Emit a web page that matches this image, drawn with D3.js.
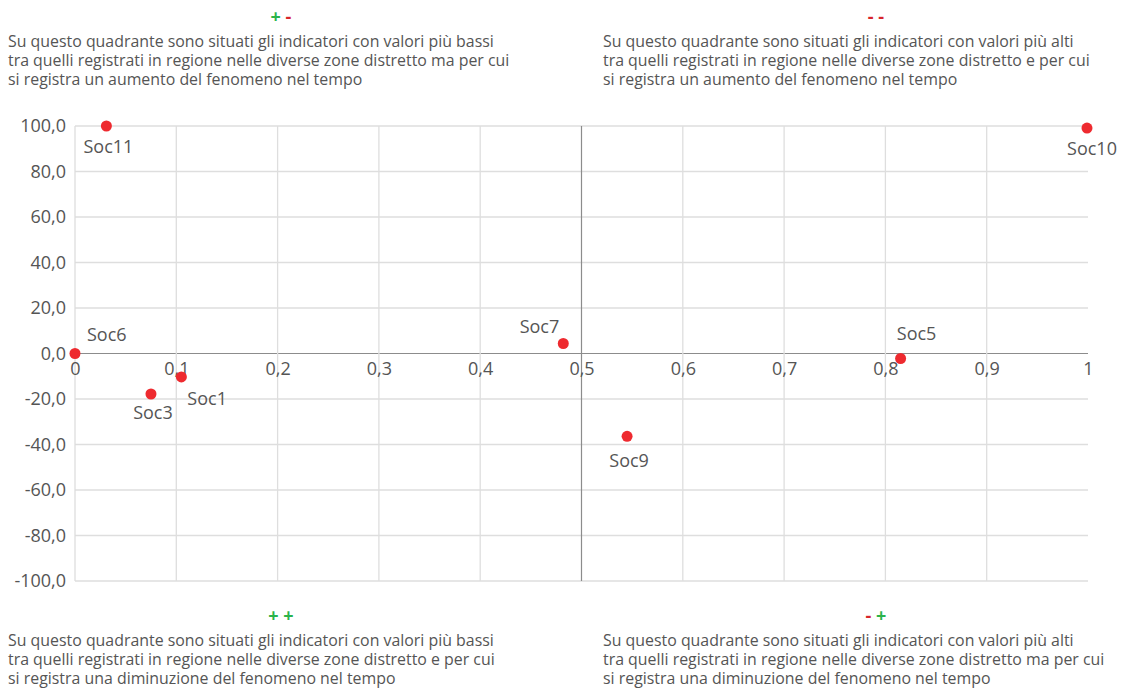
<!DOCTYPE html>
<html>
<head>
<meta charset="utf-8">
<script src="https://cdn.jsdelivr.net/npm/d3@7"></script>
<style>
  body { margin: 0; background: #fff; font-family: "Open Sans", sans-serif; }
  .note { font-size: 15.9px; fill: #555; }
  .tick text { font-family: "Open Sans", sans-serif; font-size: 18px; fill: #555; }
</style>
</head>
<body>
<div id="chart"></div>
<script>
var svgWidth = 1126;
var svgHeight = 690;
var margin = {top: 126, right: 38, bottom: 109, left: 75};
var width = svgWidth - margin.left - margin.right;
var height = svgHeight - margin.top - margin.bottom;

// dati
var names = ["Soc11", "Soc6", "Soc3", "Soc1", "Soc7", "Soc9", "Soc10", "Soc5"];
var xValues = [0.031, 0, 0.075, 0.105, 0.482, 0.545, 0.999, 0.815];
var yValues = [100, 0, -17.8, -10.3, 4.4, -36.4, 99.1, -2.2];
var xTicks = [0, 0.1, 0.2, 0.3, 0.4, 0.5, 0.6, 0.7, 0.8, 0.9, 1];
var yTicks = [-100, -80, -60, -40, -20, 0, 20, 40, 60, 80, 100];

// posizione etichette (dx, dy, anchor)
var labelPos = {
  Soc11: [2, 27, "middle"], Soc6: [12, -13, "start"], Soc3: [2, 25, "middle"],
  Soc1: [6, 28, "start"], Soc7: [-4, -10, "end"], Soc9: [2, 31, "middle"],
  Soc10: [5, 27, "middle"], Soc5: [16, -19, "middle"]
};

var quadNotes = [
  {signs: [["+", "#2bb34b"], ["-", "#d7262c"]], x: 8, y: 47,
   lines: ["Su questo quadrante sono situati gli indicatori con valori più bassi",
           "tra quelli registrati in regione nelle diverse zone distretto ma per cui",
           "si registra un aumento del fenomeno nel tempo"]},
  {signs: [["-", "#d7262c"], ["-", "#d7262c"]], x: 603, y: 47,
   lines: ["Su questo quadrante sono situati gli indicatori con valori più alti",
           "tra quelli registrati in regione nelle diverse zone distretto e per cui",
           "si registra un aumento del fenomeno nel tempo"]},
  {signs: [["+", "#2bb34b"], ["+", "#2bb34b"]], x: 8, y: 646,
   lines: ["Su questo quadrante sono situati gli indicatori con valori più bassi",
           "tra quelli registrati in regione nelle diverse zone distretto e per cui",
           "si registra una diminuzione del fenomeno nel tempo"]},
  {signs: [["-", "#d7262c"], ["+", "#2bb34b"]], x: 603, y: 646,
   lines: ["Su questo quadrante sono situati gli indicatori con valori più alti",
           "tra quelli registrati in regione nelle diverse zone distretto ma per cui",
           "si registra una diminuzione del fenomeno nel tempo"]}
];

var data = names.map(function(n, i) {
  return {name: n, x: xValues[i], y: yValues[i]};
});

var svg = d3.select("#chart")
  .append("svg")
  .attr("width", svgWidth)
  .attr("height", svgHeight);

var chartMain = svg.append("g")
  .attr("transform", `translate(${margin.left}, ${margin.top})`);

var xScale = d3.scaleLinear().domain([0, 1]).range([0, width]);
var yScale = d3.scaleLinear().domain([-100, 100]).range([height, 0]);

var fmtX = function(d) { return String(d).replace(".", ","); };
var fmtY = function(d) { return d3.format(".1f")(d).replace(".", ",").replace("−", "-"); };

// griglia
chartMain.append("g")
  .selectAll("line")
  .data(yTicks)
  .enter()
  .append("line")
  .attr("x1", 0)
  .attr("x2", width)
  .attr("y1", d => yScale(d))
  .attr("y2", d => yScale(d))
  .attr("stroke", d => d === 0 ? "#8c8c8c" : "#dedede")
  .attr("stroke-width", d => d === 0 ? 1.2 : 1.3);

chartMain.append("g")
  .selectAll("line")
  .data(xTicks.filter(d => d < 1))
  .enter()
  .append("line")
  .attr("x1", d => xScale(d))
  .attr("x2", d => xScale(d))
  .attr("y1", 0)
  .attr("y2", height)
  .attr("stroke", d => d === 0.5 ? "#8c8c8c" : "#dedede")
  .attr("stroke-width", d => d === 0.5 ? 1.2 : 1.3);

// assi
var yAxis = chartMain.append("g")
  .call(d3.axisLeft(yScale).tickValues(yTicks).tickFormat(fmtY).tickSize(0).tickPadding(9));
yAxis.select(".domain").remove();

var xAxis = chartMain.append("g")
  .attr("transform", `translate(0, ${yScale(0)})`)
  .call(d3.axisBottom(xScale).tickValues(xTicks).tickFormat(fmtX).tickSize(0).tickPadding(9));
xAxis.select(".domain").remove();

// punti
chartMain.selectAll("circle")
  .data(data)
  .enter()
  .append("circle")
  .attr("cx", d => xScale(d.x))
  .attr("cy", d => yScale(d.y))
  .attr("r", 5.5)
  .attr("fill", "#ee2a2f");

chartMain.append("g")
  .selectAll("text")
  .data(data)
  .enter()
  .append("text")
  .attr("x", d => xScale(d.x) + labelPos[d.name][0])
  .attr("y", d => yScale(d.y) + labelPos[d.name][1])
  .attr("text-anchor", d => labelPos[d.name][2])
  .style("font-size", "18px")
  .style("fill", "#555")
  .text(d => d.name);

// note dei quadranti
quadNotes.forEach(function(q) {
  var g = svg.append("g");
  g.selectAll("text.note")
    .data(q.lines)
    .enter()
    .append("text")
    .attr("class", "note")
    .attr("x", q.x)
    .attr("y", (d, i) => q.y + i * 19)
    .text(d => d);
  var s = g.append("text")
    .attr("x", q.x + 273)
    .attr("y", q.y - 24)
    .attr("text-anchor", "middle")
    .style("font-size", "18px")
    .style("font-weight", "bold");
  q.signs.forEach(function(sg, i) {
    s.append("tspan")
      .attr("fill", sg[1])
      .text((i > 0 ? " " : "") + sg[0]);
  });
});
</script>
</body>
</html>
